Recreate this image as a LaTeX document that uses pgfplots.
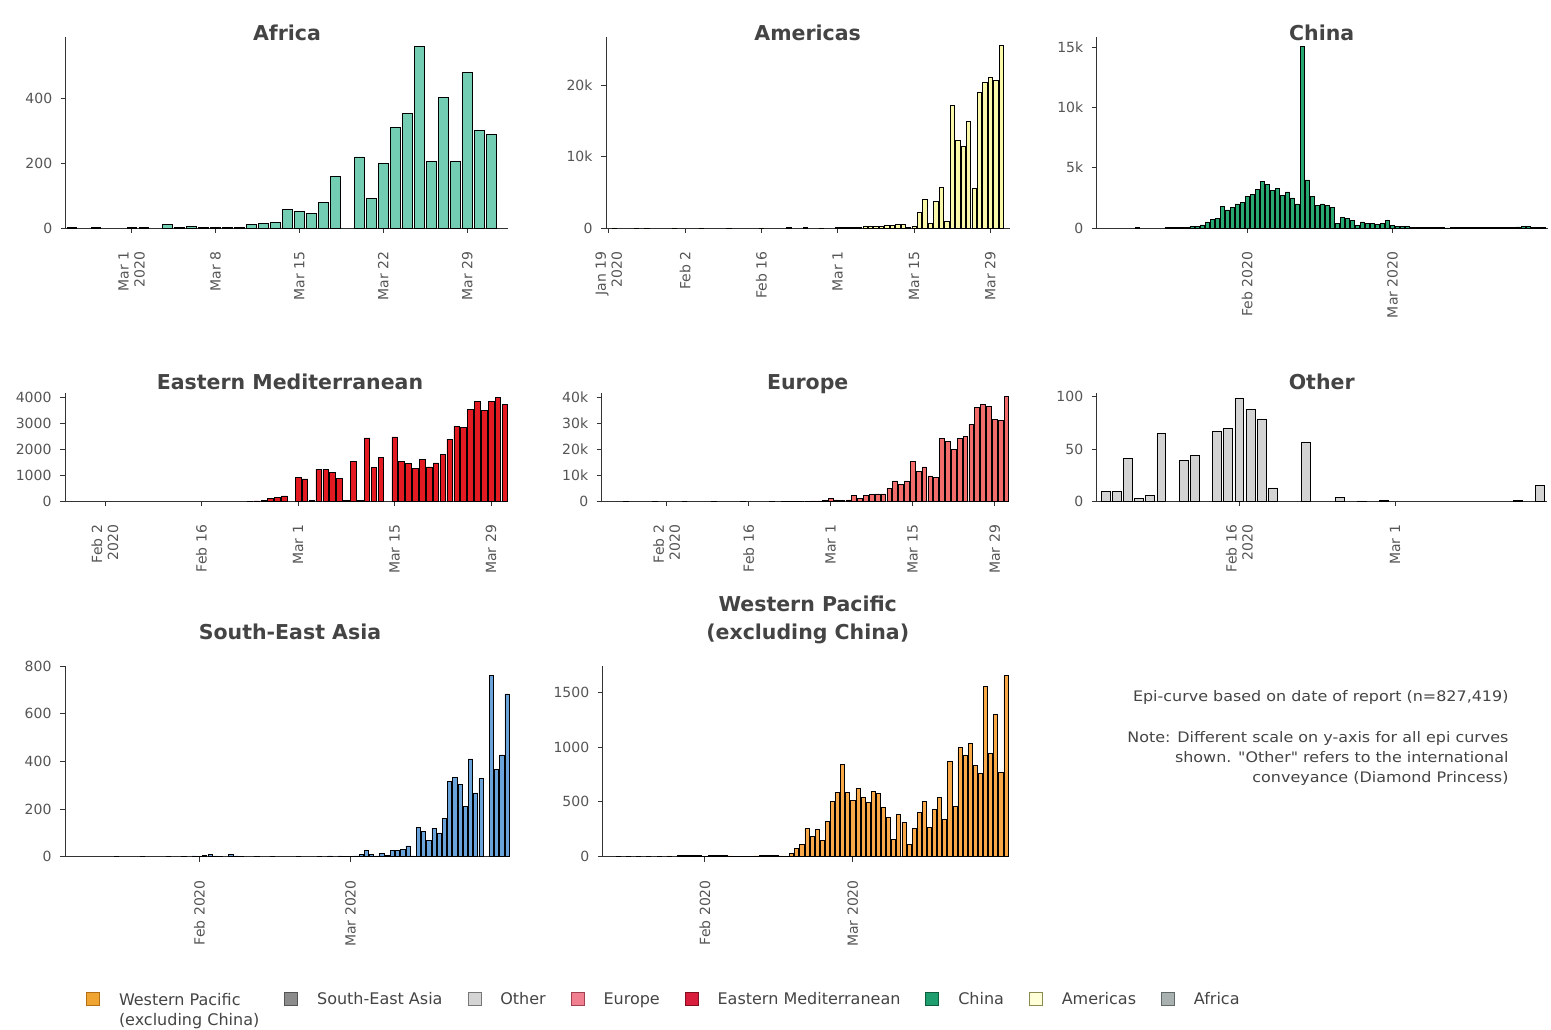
\documentclass[border=0pt]{standalone}
\usepackage{pgfplots}
\pgfplotsset{compat=1.18}
\usepackage{fontspec}
\setmainfont{DejaVu Sans}[Ligatures=TeXOff]

\definecolor{tickgrey}{HTML}{555555}
\definecolor{titlegrey}{HTML}{444444}
\definecolor{axisgrey}{HTML}{333333}
\definecolor{cAfrica}{HTML}{72CDB2}
\definecolor{cAmericas}{HTML}{F8F8A8}
\definecolor{cChina}{HTML}{26A870}
\definecolor{cEM}{HTML}{E31A22}
\definecolor{cEurope}{HTML}{F26C6C}
\definecolor{cOther}{HTML}{D3D3D3}
\definecolor{cSEA}{HTML}{6AA2DA}
\definecolor{cWP}{HTML}{F8A846}
% legend colours
\definecolor{lWPf}{HTML}{F0A532}\definecolor{lWPd}{HTML}{B46E14}
\definecolor{lSEAf}{HTML}{8C8C8C}\definecolor{lSEAd}{HTML}{555555}
\definecolor{lOTf}{HTML}{D4D4D4}\definecolor{lOTd}{HTML}{777777}
\definecolor{lEUf}{HTML}{F08090}\definecolor{lEUd}{HTML}{A04050}
\definecolor{lEMf}{HTML}{D81E3C}\definecolor{lEMd}{HTML}{801020}
\definecolor{lCNf}{HTML}{1E9E6E}\definecolor{lCNd}{HTML}{0E5E3E}
\definecolor{lAMf}{HTML}{FFFFD8}\definecolor{lAMd}{HTML}{8A8A50}
\definecolor{lAFf}{HTML}{A8B0B0}\definecolor{lAFd}{HTML}{606868}

\pgfplotsset{
  epi/.style={
    scale only axis,
    axis lines=left,
    axis line style={-, draw=axisgrey, line width=0.9pt},
    ymin=0,
    tick align=outside,
    major tick length=5pt,
    every tick/.style={draw=axisgrey, line width=0.8pt},
    ybar, bar width=0.8,
    scaled y ticks=false,
    tick label style={font=\fontsize{14}{16}\selectfont, text=tickgrey},
    xticklabel style={rotate=90, anchor=east, align=right},
    xticklabel shift=15pt,
    yticklabel shift=5pt,
    clip=false,
    every axis plot/.append style={draw=black, line width=0.6pt},
    /pgf/number format/assume math mode=true,
  },
}
\tikzset{ttl/.style={font=\fontsize{20.5}{24}\selectfont\bfseries, text=titlegrey, anchor=base}}

\begin{document}
\begin{tikzpicture}
\path[use as bounding box] (0pt,0pt) rectangle (1551pt,1030pt);

% ---------- Africa ----------
\begin{axis}[epi, at={(65.7pt,802pt)}, anchor=south west, width=442.3pt, height=191pt,
  xmin=-5.5, xmax=31.4, ymax=588,
  xtick={0,7,14,21,28}, xticklabels={{Mar 1\\2020},{Mar 8},{Mar 15},{Mar 22},{Mar 29}},
  ytick={0,200,400}, yticklabels={0,200,400}]
\addplot[fill=cAfrica] coordinates {(-5,1) (-3,1) (0,1) (1,2) (3,10) (4,3) (5,6) (6,2) (7,2) (8,2) (9,3) (10,10) (11,14) (12,17) (13,58) (14,50) (15,44) (16,79) (17,160) (19,219) (20,91) (21,199) (22,310) (23,353) (24,560) (25,204) (26,402) (27,204) (28,479) (29,301) (30,289)};
\end{axis}
\node[ttl] at (287pt,989.3pt) {Africa};

% ---------- Americas ----------
\begin{axis}[epi, at={(606pt,802pt)}, anchor=south west, width=404pt, height=191pt,
  xmin=-42.5, xmax=31.6, ymax=26800,
  xtick={-42,-28,-14,0,14,28}, xticklabels={{Jan 19\\2020},{Feb 2},{Feb 16},{Mar 1},{Mar 15},{Mar 29}},
  ytick={0,10000,20000}, yticklabels={0,10k,20k}]
\addplot[fill=cAmericas] coordinates {(-41,1) (-37,1) (-35,2) (-30,3) (-25,2) (-20,3) (-14,2) (-9,100) (-6,90) (-3,20) (0,50) (1,80) (2,100) (3,120) (4,150) (5,180) (6,200) (7,250) (8,280) (9,350) (10,400) (11,550) (12,550) (13,100) (14,300) (15,2250) (16,4070) (17,600) (18,3700) (19,5700) (20,900) (21,17200) (22,12300) (23,11400) (24,14900) (25,5500) (26,19100) (27,20400) (28,21200) (29,20700) (30,25600)};
\end{axis}
\node[ttl] at (807.7pt,989.3pt) {Americas};

% ---------- China ----------
\begin{axis}[epi, at={(1096.7pt,802pt)}, anchor=south west, width=451.3pt, height=191pt,
  xmin=-59, xmax=31, ymax=15860,
  xtick={-29,0}, xticklabels={{Feb 2020},{Mar 2020}},
  ytick={0,5000,10000,15000}, yticklabels={0,5k,10k,15k}]
\addplot[fill=cChina] coordinates {(-51,40) (-45,20) (-44,30) (-43,40) (-42,50) (-41,80) (-40,130) (-39,150) (-38,250) (-37,500) (-36,700) (-35,800) (-34,1800) (-33,1500) (-32,1700) (-31,2000) (-30,2100) (-29,2600) (-28,2800) (-27,3200) (-26,3900) (-25,3600) (-24,3100) (-23,3300) (-22,2700) (-21,3000) (-20,2500) (-19,2000) (-18,15100) (-17,4000) (-16,2600) (-15,1900) (-14,2000) (-13,1900) (-12,1700) (-11,400) (-10,900) (-9,800) (-8,600) (-7,200) (-6,500) (-5,400) (-4,400) (-3,300) (-2,400) (-1,600) (0,200) (1,150) (2,120) (3,100) (4,60) (5,50) (6,45) (7,40) (8,30) (9,25) (10,20) (11,15) (12,20) (13,20) (14,25) (15,30) (16,35) (17,40) (18,45) (19,40) (20,45) (21,50) (22,60) (23,70) (24,80) (25,90) (26,100) (27,100) (28,80) (29,60) (30,50)};
\end{axis}
\node[ttl] at (1321.7pt,989.3pt) {China};

% ---------- Eastern Mediterranean ----------
\begin{axis}[epi, at={(65pt,528.5pt)}, anchor=south west, width=443pt, height=108.5pt,
  xmin=-33.8, xmax=30.45, ymax=4150,
  xtick={-28,-14,0,14,28}, xticklabels={{Feb 2\\2020},{Feb 16},{Mar 1},{Mar 15},{Mar 29}},
  ytick={0,1000,2000,3000,4000}, yticklabels={0,1000,2000,3000,4000}]
\addplot[fill=cEM] coordinates {(-7,10) (-6,20) (-5,40) (-4,110) (-3,150) (-2,215) (0,930) (1,867) (2,30) (3,1224) (4,1224) (5,1122) (6,880) (7,50) (8,1530) (9,50) (10,2435) (11,1300) (12,1683) (14,2473) (15,1530) (16,1466) (17,1275) (18,1619) (19,1326) (20,1479) (21,1810) (22,2384) (23,2881) (24,2830) (25,3519) (26,3825) (27,3481) (28,3838) (29,3978) (30,3723)};
\end{axis}
\node[ttl] at (290pt,640.7pt) {Eastern Mediterranean};

% ---------- Europe ----------
\begin{axis}[epi, at={(601.7pt,528.5pt)}, anchor=south west, width=407.3pt, height=108.5pt,
  xmin=-39.1, xmax=30.45, ymax=41600,
  xtick={-28,-14,0,14,28}, xticklabels={{Feb 2\\2020},{Feb 16},{Mar 1},{Mar 15},{Mar 29}},
  ytick={0,10000,20000,30000,40000}, yticklabels={0,10k,20k,30k,40k}]
\addplot[fill=cEurope] coordinates {(-35,3) (-30,2) (-25,5) (-20,3) (-15,5) (-10,10) (-8,30) (-7,60) (-6,100) (-5,90) (-4,130) (-3,200) (-2,250) (-1,350) (0,1100) (1,600) (2,500) (3,600) (4,2200) (5,1300) (6,2200) (7,2800) (8,2900) (9,2900) (10,5000) (11,7900) (12,6400) (13,7900) (14,15300) (15,11400) (16,13300) (17,9800) (18,9300) (19,24100) (20,23000) (21,19900) (22,24100) (23,25000) (24,29600) (25,36000) (26,37300) (27,36600) (28,31600) (29,31200) (30,40200)};
\end{axis}
\node[ttl] at (807.7pt,640.7pt) {Europe};

% ---------- Other ----------
\begin{axis}[epi, at={(1096.7pt,528.5pt)}, anchor=south west, width=450pt, height=108.5pt,
  xmin=-26.8, xmax=13.6, ymax=103.7,
  xtick={-14,0}, xticklabels={{Feb 16\\2020},{Mar 1}},
  ytick={0,50,100}, yticklabels={0,50,100}]
\addplot[fill=cOther] coordinates {(-26,10) (-25,10) (-24,41) (-23,3) (-22,6) (-21,65) (-19,39) (-18,44) (-16,67) (-15,70) (-14,99) (-13,88) (-12,79) (-11,13) (-8,57) (-5,4) (-3,0.5) (-1,1) (11,1) (13,15)};
\end{axis}
\node[ttl] at (1321.7pt,640.7pt) {Other};

% ---------- South-East Asia ----------
\begin{axis}[epi, at={(65pt,173.3pt)}, anchor=south west, width=444.3pt, height=190.7pt,
  xmin=-54.8, xmax=30.45, ymax=800,
  xtick={-29,0}, xticklabels={{Feb 2020},{Mar 2020}},
  ytick={0,200,400,600,800}, yticklabels={0,200,400,600,800}]
\addplot[fill=cSEA] coordinates {(-45,1) (-40,2) (-35,1) (-32,2) (-30,3) (-29,2) (-28,4) (-27,8) (-26,3) (-25,2) (-23,8) (-22,3) (-21,2) (-18,1) (-15,2) (-10,1) (-6,2) (-4,3) (-2,3) (-1,2) (0,2) (1,3) (2,8) (3,25) (4,8) (5,3) (6,15) (7,5) (8,25) (9,25) (10,30) (11,45) (12,3) (13,123) (14,105) (15,70) (16,120) (17,100) (18,160) (19,315) (20,332) (21,303) (22,212) (23,410) (24,268) (25,328) (27,760) (28,365) (29,427) (30,683)};
\end{axis}
\node[ttl] at (290pt,390.7pt) {South-East Asia};

% ---------- Western Pacific ----------
\begin{axis}[epi, at={(602.7pt,173.3pt)}, anchor=south west, width=406.3pt, height=190.7pt,
  xmin=-49, xmax=30.6, ymax=1740,
  xtick={-29,0}, xticklabels={{Feb 2020},{Mar 2020}},
  ytick={0,500,1000,1500}, yticklabels={0,500,1000,1500}]
\addplot[fill=cWP] coordinates {(-46,2) (-44,3) (-42,4) (-40,5) (-38,6) (-36,8) (-34,10) (-33,12) (-32,15) (-31,10) (-30,12) (-29,5) (-28,10) (-27,15) (-26,12) (-25,10) (-24,8) (-23,5) (-22,6) (-21,5) (-20,6) (-19,8) (-18,10) (-17,12) (-16,12) (-15,10) (-14,8) (-13,5) (-12,30) (-11,76) (-10,112) (-9,258) (-8,182) (-7,246) (-6,146) (-5,319) (-4,508) (-3,590) (-2,845) (-1,590) (0,517) (1,623) (2,541) (3,493) (4,599) (5,575) (6,447) (7,359) (8,161) (9,386) (10,316) (11,112) (12,258) (13,401) (14,505) (15,268) (16,435) (17,541) (18,344) (19,870) (20,459) (21,998) (22,928) (23,1034) (24,830) (25,763) (26,1557) (27,940) (28,1299) (29,770) (30,1651)};
\end{axis}
\node[ttl] at (807.7pt,418.3pt) {Western Pacific};
\node[ttl] at (807.7pt,390.7pt) {(excluding China)};

% ---------- Note ----------
\begin{scope}[every node/.style={font=\fontsize{14.5}{17}\selectfont\addfontfeature{FakeStretch=1.1}, text=titlegrey, anchor=base east}]
\node at (1512pt,328pt) {Epi-curve based on date of report (n=827,419)};
\node at (1512pt,287pt) {Note: Different scale on y-axis for all epi curves};
\node at (1512pt,267pt) {shown. "Other" refers to the international};
\node at (1512pt,247pt) {conveyance (Diamond Princess)};
\end{scope}

% ---------- Legend ----------
\begin{axis}[at={(0pt,0pt)}, anchor=south west, scale only axis, width=100pt, height=100pt,
  hide axis, xmin=0, xmax=1, ymin=0, ymax=1,
  legend columns=8,
  legend cell align=left,
  legend image code/.code={\draw[#1, line width=0.8pt] (0pt,-6pt) rectangle (13pt,7pt);},
  legend style={draw=none, fill=none, at={(0.86,0.39)}, anchor=north west, inner sep=0pt,
    font=\fontsize{16}{20}\selectfont, text=titlegrey,
    nodes={inner sep=0pt},
    /tikz/every odd column/.append style={column sep=19pt},
    /tikz/every even column/.append style={column sep=25pt}}]
\addlegendimage{fill=lWPf, draw=lWPd}
\addlegendentry{\begin{tabular}[t]{@{}l@{}}Western Pacific\\(excluding China)\end{tabular}}
\addlegendimage{fill=lSEAf, draw=lSEAd}
\addlegendentry{South-East Asia}
\addlegendimage{fill=lOTf, draw=lOTd}
\addlegendentry{Other}
\addlegendimage{fill=lEUf, draw=lEUd}
\addlegendentry{Europe}
\addlegendimage{fill=lEMf, draw=lEMd}
\addlegendentry{Eastern Mediterranean}
\addlegendimage{fill=lCNf, draw=lCNd}
\addlegendentry{China}
\addlegendimage{fill=lAMf, draw=lAMd}
\addlegendentry{Americas}
\addlegendimage{fill=lAFf, draw=lAFd}
\addlegendentry{Africa}
\end{axis}
\end{tikzpicture}
\end{document}
